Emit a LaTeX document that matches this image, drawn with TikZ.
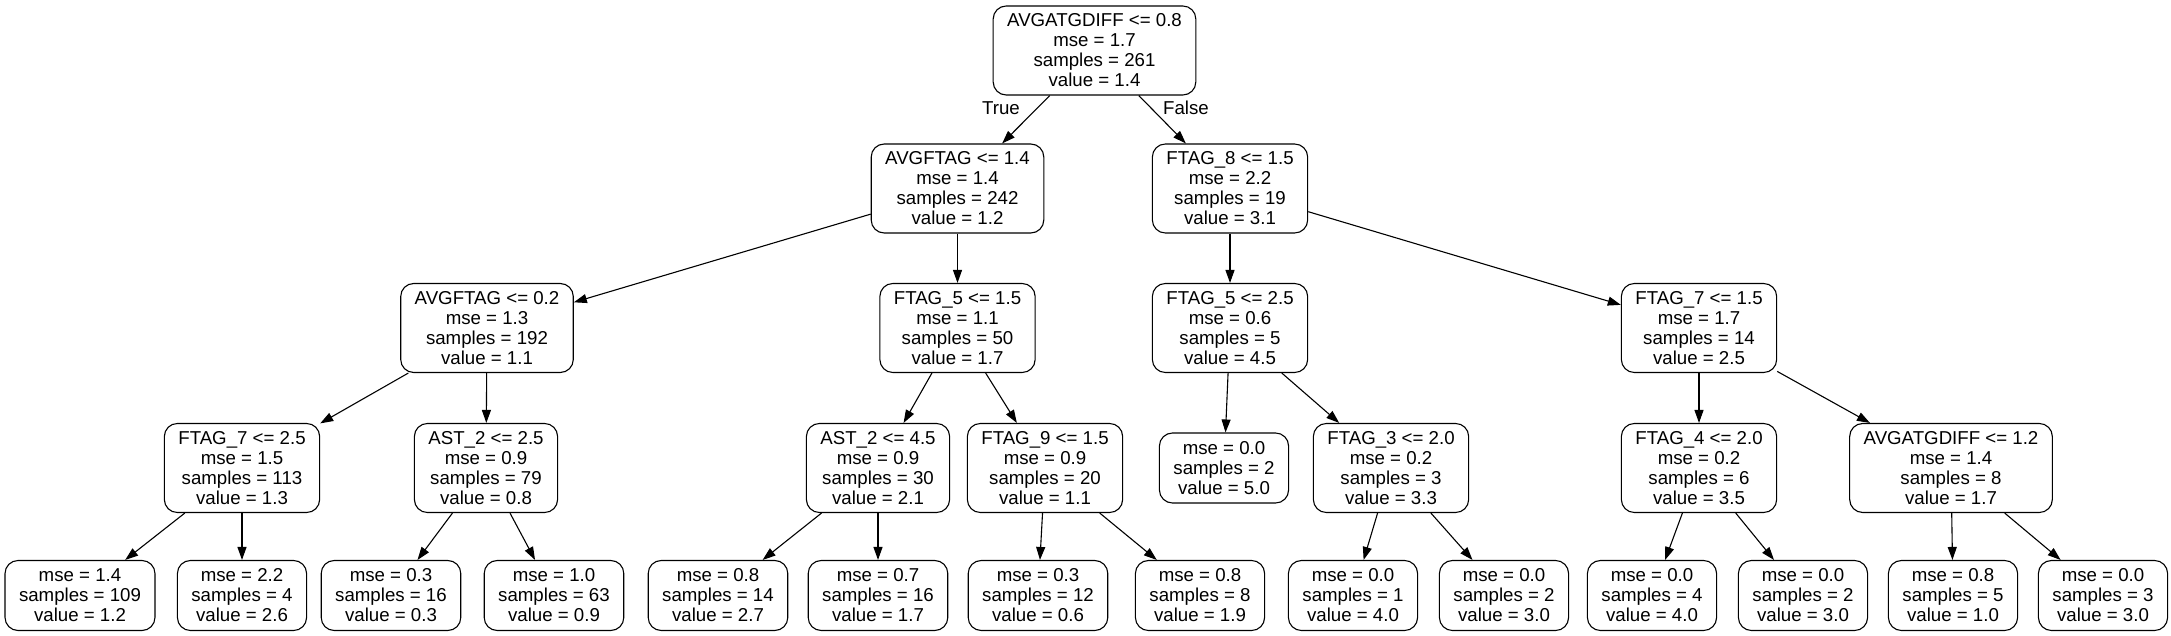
\documentclass[tikz,border=0pt]{standalone}
\usepackage{fontspec}
\setmainfont{Liberation Sans}
\usetikzlibrary{arrows.meta}
\tikzset{
  box/.style={draw, rounded corners=13pt, line width=1.1pt, align=center,
    inner xsep=14pt, inner ysep=0pt, fill=white,
    font=\fontsize{18.67}{20}\selectfont},
  split/.style={box, minimum height=89pt},
  leafbox/.style={box, minimum height=70pt},
  edge/.style={line width=1.1pt, -{Triangle[length=13pt,width=9pt]}},
  lbl/.style={font=\fontsize{18.67}{20}\selectfont, inner sep=0pt}
}
\begin{document}
\begin{tikzpicture}[x=1pt,y=-1pt]
\useasboundingbox (0,0) rectangle (2171,636);
% level 0
\node[split] (root) at (1094.5,50.5) {AVGATGDIFF <= 0.8\\mse = 1.7\\samples = 261\\value = 1.4};
% level 1
\node[split] (n1) at (957.5,188.5) {AVGFTAG <= 1.4\\mse = 1.4\\samples = 242\\value = 1.2};
\node[split] (n2) at (1230,188.5) {FTAG\_8 <= 1.5\\mse = 2.2\\samples = 19\\value = 3.1};
% level 2
\node[split] (n3) at (487,328) {AVGFTAG <= 0.2\\mse = 1.3\\samples = 192\\value = 1.1};
\node[split] (n4) at (957.5,328) {FTAG\_5 <= 1.5\\mse = 1.1\\samples = 50\\value = 1.7};
\node[split] (n5) at (1230,328) {FTAG\_5 <= 2.5\\mse = 0.6\\samples = 5\\value = 4.5};
\node[split] (n6) at (1699,328) {FTAG\_7 <= 1.5\\mse = 1.7\\samples = 14\\value = 2.5};
% level 3
\node[split] (n7) at (242,468) {FTAG\_7 <= 2.5\\mse = 1.5\\samples = 113\\value = 1.3};
\node[split] (n8) at (486,468) {AST\_2 <= 2.5\\mse = 0.9\\samples = 79\\value = 0.8};
\node[split] (n9) at (878,468) {AST\_2 <= 4.5\\mse = 0.9\\samples = 30\\value = 2.1};
\node[split] (n10) at (1045,468) {FTAG\_9 <= 1.5\\mse = 0.9\\samples = 20\\value = 1.1};
\node[leafbox] (n11) at (1224,468) {mse = 0.0\\samples = 2\\value = 5.0};
\node[split] (n12) at (1391,468) {FTAG\_3 <= 2.0\\mse = 0.2\\samples = 3\\value = 3.3};
\node[split] (n13) at (1699,468) {FTAG\_4 <= 2.0\\mse = 0.2\\samples = 6\\value = 3.5};
\node[split] (n14) at (1951,468) {AVGATGDIFF <= 1.2\\mse = 1.4\\samples = 8\\value = 1.7};
% level 4
\node[leafbox] (l1) at (80,595.5) {mse = 1.4\\samples = 109\\value = 1.2};
\node[leafbox] (l2) at (242,595.5) {mse = 2.2\\samples = 4\\value = 2.6};
\node[leafbox] (l3) at (391,595.5) {mse = 0.3\\samples = 16\\value = 0.3};
\node[leafbox] (l4) at (554,595.5) {mse = 1.0\\samples = 63\\value = 0.9};
\node[leafbox] (l5) at (718,595.5) {mse = 0.8\\samples = 14\\value = 2.7};
\node[leafbox] (l6) at (878,595.5) {mse = 0.7\\samples = 16\\value = 1.7};
\node[leafbox] (l7) at (1038,595.5) {mse = 0.3\\samples = 12\\value = 0.6};
\node[leafbox] (l8) at (1200,595.5) {mse = 0.8\\samples = 8\\value = 1.9};
\node[leafbox] (l9) at (1353,595.5) {mse = 0.0\\samples = 1\\value = 4.0};
\node[leafbox] (l10) at (1504,595.5) {mse = 0.0\\samples = 2\\value = 3.0};
\node[leafbox] (l11) at (1652,595.5) {mse = 0.0\\samples = 4\\value = 4.0};
\node[leafbox] (l12) at (1803,595.5) {mse = 0.0\\samples = 2\\value = 3.0};
\node[leafbox] (l13) at (1953,595.5) {mse = 0.8\\samples = 5\\value = 1.0};
\node[leafbox] (l14) at (2103,595.5) {mse = 0.0\\samples = 3\\value = 3.0};
% edge labels
\node[lbl] (tlbl) at (1001,108) {True};
\node[lbl] (flbl) at (1186,108) {False};
% edges
\foreach \a/\b in {root/n1, root/n2, n1/n3, n1/n4, n2/n5, n2/n6,
  n3/n7, n3/n8, n4/n9, n4/n10, n5/n11, n5/n12, n6/n13, n6/n14,
  n7/l1, n7/l2, n8/l3, n8/l4, n9/l5, n9/l6, n10/l7, n10/l8,
  n12/l9, n12/l10, n13/l11, n13/l12, n14/l13, n14/l14}
  \draw[edge] (\a) -- (\b);
\end{tikzpicture}
\end{document}
